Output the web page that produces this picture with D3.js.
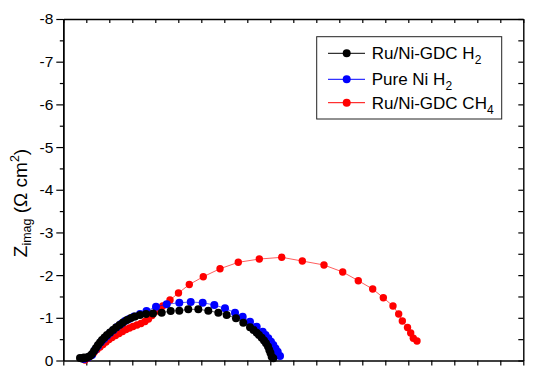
<!DOCTYPE html>
<html>
<head>
<meta charset="utf-8">
<script src="https://cdn.jsdelivr.net/npm/d3@7"></script>
<style>
  html, body { margin: 0; padding: 0; background: #fff; }
  svg { display: block; font-family: Arial, "Liberation Sans", sans-serif; }
</style>
</head>
<body>
<svg id="chart" width="538" height="378"></svg>
<script>
// ---- Data (Z_real in arbitrary axis units, Z_imag in Ω cm²) ----
const seriesNames = ["Ru/Ni-GDC H", "Pure Ni H", "Ru/Ni-GDC CH"];
const seriesSubs = ["2", "2", "4"];
const seriesColors = ["#000000", "#0000ff", "#ff0000"];

const blackRe = [0.363,0.407,0.450,0.493,0.537,0.580,0.624,0.667,0.711,0.754,0.798,0.841,0.896,0.950,1.015,1.080,1.146,1.222,1.298,1.385,1.472,1.559,1.667,1.798,1.950,2.139,2.335,2.522,2.717,2.935,3.152,3.370,3.552,3.754,3.913,4.059,4.135,4.204,4.254,4.313,4.363,4.407,4.450,4.478,4.504,4.530,4.565];
const blackIm = [-0.059,-0.047,-0.070,-0.059,-0.082,-0.105,-0.152,-0.222,-0.293,-0.363,-0.422,-0.480,-0.539,-0.597,-0.656,-0.714,-0.773,-0.831,-0.890,-0.948,-0.995,-1.030,-1.066,-1.089,-1.101,-1.119,-1.159,-1.166,-1.199,-1.199,-1.166,-1.119,-1.066,-0.988,-0.885,-0.778,-0.714,-0.651,-0.597,-0.534,-0.468,-0.403,-0.328,-0.246,-0.176,-0.089,-0.052];

const blueRe = [0.450,0.537,0.624,0.689,0.754,0.820,0.885,0.950,1.015,1.091,1.167,1.254,1.341,1.428,1.537,1.667,1.809,2.015,2.248,2.522,2.770,3.030,3.283,3.515,3.733,3.900,4.059,4.204,4.335,4.396,4.457,4.515,4.565,4.613,4.661,4.711];
const blueIm = [-0.035,-0.070,-0.129,-0.246,-0.340,-0.433,-0.504,-0.574,-0.644,-0.714,-0.785,-0.855,-0.925,-0.972,-1.030,-1.089,-1.159,-1.260,-1.316,-1.354,-1.370,-1.354,-1.300,-1.222,-1.119,-1.026,-0.909,-0.792,-0.674,-0.597,-0.520,-0.440,-0.363,-0.281,-0.206,-0.105];

const redRe = [0.472,0.537,0.602,0.667,0.733,0.798,0.863,0.928,0.993,1.059,1.135,1.211,1.287,1.363,1.439,1.515,1.602,1.689,1.776,1.852,1.928,2.037,2.161,2.320,2.504,2.739,3.043,3.407,3.804,4.261,4.748,5.196,5.667,6.074,6.413,6.726,6.957,7.167,7.291,7.370,7.483,7.552,7.609,7.689];
const redIm = [-0.012,-0.059,-0.117,-0.187,-0.258,-0.316,-0.375,-0.433,-0.492,-0.539,-0.585,-0.632,-0.679,-0.726,-0.761,-0.796,-0.831,-0.867,-0.913,-0.972,-1.054,-1.159,-1.276,-1.417,-1.581,-1.780,-1.963,-2.150,-2.300,-2.377,-2.417,-2.330,-2.237,-2.073,-1.869,-1.674,-1.471,-1.276,-1.089,-0.925,-0.773,-0.644,-0.520,-0.457];

const xTicks = d3.range(0, 10.001, 0.5);
const yMajorTicks = [0, -1, -2, -3, -4, -5, -6, -7, -8];
const yMinorTicks = d3.range(-0.5, -8, -1);
const yTicksAll = d3.range(0, -8.001, -0.5);

// ---- Layout ----
const L = 63.3, R = 523.3, T = 19, B = 360.5;
const svg = d3.select("#chart");
const x = d3.scaleLinear().domain([0, 10]).range([L, R]);
const y = d3.scaleLinear().domain([0, -8]).range([B, T]);

const toPts = (re, im) => re.map((v, i) => [v, im[i]]);
const series = [
  { pts: toPts(blackRe, blackIm), color: seriesColors[0], r: 4 },
  { pts: toPts(blueRe, blueIm), color: seriesColors[1], r: 4 },
  { pts: toPts(redRe, redIm), color: seriesColors[2], r: 3.7 }
];

// ---- Axes ----
const axisStyle = g => {
  g.select(".domain").attr("stroke", "#000").attr("stroke-width", 1.4);
  g.selectAll(".tick line").attr("stroke", "#000").attr("stroke-width", 1.2);
};

// bottom: outward ticks, no labels (cropped)
svg.append("g").attr("transform", `translate(0,${B})`)
  .call(d3.axisBottom(x).tickValues(xTicks).tickSize(5).tickSizeOuter(0).tickFormat(""))
  .call(axisStyle);
// top: inward ticks
svg.append("g").attr("transform", `translate(0,${T})`)
  .call(d3.axisTop(x).tickValues(xTicks).tickSize(-4).tickSizeOuter(0).tickFormat(""))
  .call(axisStyle);
// right: inward ticks
svg.append("g").attr("transform", `translate(${R},0)`)
  .call(d3.axisRight(y).tickValues(yTicksAll).tickSize(-5).tickSizeOuter(0).tickFormat(""))
  .call(axisStyle);
// left: minor ticks
svg.append("g").attr("transform", `translate(${L},0)`)
  .call(d3.axisLeft(y).tickValues(yMinorTicks).tickSize(3.5).tickSizeOuter(0).tickFormat(""))
  .call(axisStyle);
// left: major ticks with labels
const yAx = svg.append("g").attr("transform", `translate(${L},0)`)
  .call(d3.axisLeft(y).tickValues(yMajorTicks).tickSize(7).tickSizeOuter(0).tickPadding(3)
    .tickFormat(d => String(d === 0 ? 0 : d)))
  .call(axisStyle);
yAx.selectAll(".tick text")
  .attr("font-family", "Arial, 'Liberation Sans', sans-serif")
  .attr("font-size", 15.5).attr("fill", "#000");

// Y label
const yl = svg.append("text")
  .attr("transform", `translate(27,${203}) rotate(-90)`)
  .attr("text-anchor", "middle")
  .attr("font-size", 19).attr("fill", "#000");
yl.append("tspan").text("Z");
yl.append("tspan").attr("font-size", 12.5).attr("dy", 4).text("imag");
yl.append("tspan").attr("dy", -4).text(" (Ω cm");
yl.append("tspan").attr("font-size", 12.5).attr("dy", -8).text("2");
yl.append("tspan").attr("dy", 8).text(")");

// ---- Series (red, blue, black draw order) ----
const line = d3.line().x(d => x(d[0])).y(d => y(d[1]));
const plot = svg.append("g");
[2, 1, 0].forEach(i => {
  const s = series[i];
  plot.append("path").datum(s.pts)
    .attr("d", line).attr("fill", "none")
    .attr("stroke", s.color).attr("stroke-width", 0.8).attr("opacity", 0.8);
  plot.selectAll(null).data(s.pts).enter().append("circle")
    .attr("cx", d => x(d[0])).attr("cy", d => y(d[1]))
    .attr("r", s.r).attr("fill", s.color);
});

// ---- Legend ----
const lg = svg.append("g");
lg.append("rect").attr("x", 316.7).attr("y", 36.7).attr("width", 185).attr("height", 82.3)
  .attr("fill", "#fff").attr("stroke", "#222").attr("stroke-width", 1);
const rowsY = [53.3, 79.3, 102.7];
seriesNames.forEach((name, i) => {
  const ry = rowsY[i];
  lg.append("line").attr("x1", 328).attr("x2", 365).attr("y1", ry).attr("y2", ry)
    .attr("stroke", seriesColors[i]).attr("stroke-width", 1);
  lg.append("circle").attr("cx", 346.7).attr("cy", ry).attr("r", 4).attr("fill", seriesColors[i]);
  const t = lg.append("text").attr("x", 371.7).attr("y", ry + 6)
    .attr("font-size", 17).attr("fill", "#000");
  t.append("tspan").text(name);
  t.append("tspan").attr("font-size", 12).attr("dy", 5).text(seriesSubs[i]);
});
</script>
</body>
</html>
